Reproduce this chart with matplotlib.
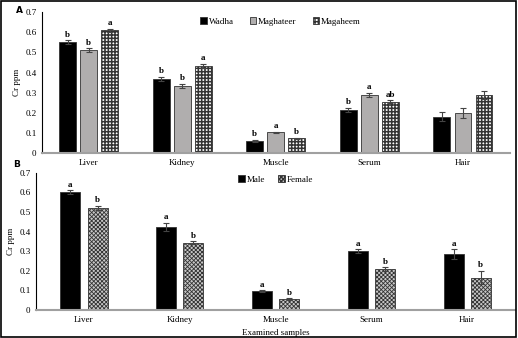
import matplotlib.pyplot as plt
import numpy as np
from matplotlib.patches import Rectangle

plt.rcParams['font.family'] = ['Liberation Serif', 'DejaVu Serif']

# Data
samples = ['Liver', 'Kidney', 'Muscle', 'Serum', 'Hair']

wadha = [0.55, 0.37, 0.06, 0.215, 0.18]
wadha_err = [0.01, 0.01, 0.005, 0.01, 0.022]
maghateer = [0.51, 0.335, 0.103, 0.29, 0.20]
maghateer_err = [0.01, 0.01, 0.004, 0.01, 0.025]
magaheem = [0.61, 0.433, 0.073, 0.255, 0.29]
magaheem_err = [0.008, 0.01, 0.004, 0.008, 0.02]
letters_a = [['b', 'b', 'a'], ['b', 'b', 'a'], ['b', 'a', 'b'], ['b', 'a', 'ab'], ['', '', '']]

male = [0.60, 0.423, 0.095, 0.30, 0.284]
male_err = [0.01, 0.022, 0.006, 0.01, 0.025]
female = [0.52, 0.343, 0.055, 0.207, 0.165]
female_err = [0.01, 0.008, 0.005, 0.01, 0.035]
letters_b = [['a', 'b'], ['a', 'b'], ['a', 'b'], ['a', 'b'], ['a', 'b']]

yticks = [0, 0.1, 0.2, 0.3, 0.4, 0.5, 0.6, 0.7]
ytick_labels = ['0', '0.1', '0.2', '0.3', '0.4', '0.5', '0.6', '0.7']

fig = plt.figure(figsize=(5.18, 3.38), dpi=100)
fig.patches.append(Rectangle((0.002, 0.003), 0.995, 0.994, transform=fig.transFigure,
                             fill=False, edgecolor='black', linewidth=1.2))

ax1 = fig.add_axes([0.081, 0.547, 0.903, 0.417])
ax2 = fig.add_axes([0.0695, 0.083, 0.925, 0.406])

x = np.arange(len(samples)) + 0.5
err_kw = dict(ecolor='#444444', elinewidth=0.8, capsize=2, capthick=0.8)


def set_hatch_lw(bars, lw):
    for b in bars:
        b.set_hatch_linewidth(lw)


# Panel A
series_a = [(wadha, wadha_err, 'Wadha', 'black', None),
            (maghateer, maghateer_err, 'Maghateer', '#b0aeae', None),
            (magaheem, magaheem_err, 'Magaheem', 'white', '+++++')]
w = 0.18
step = 0.225
for k, (vals, errs, name, color, hatch) in enumerate(series_a):
    pos = x + (k - 1) * step
    bars = ax1.bar(pos, vals, w, yerr=errs, color=color, edgecolor='#333333', linewidth=0.6,
                   hatch=hatch, label=name, error_kw=err_kw)
    if hatch:
        set_hatch_lw(bars, 1.1)
    for i in range(len(samples)):
        lab = letters_a[i][k]
        if lab:
            ax1.text(pos[i], vals[i] + errs[i] + 0.008, lab, ha='center', va='bottom',
                     fontsize=6.5, fontweight='bold')

# Panel B
series_b = [(male, male_err, 'Male', 'black', None),
            (female, female_err, 'Female', '#c8c8c8', 'xxxxxxxx')]
w = 0.21
step = 0.285
for k, (vals, errs, name, color, hatch) in enumerate(series_b):
    pos = x + (k - 0.5) * step
    bars = ax2.bar(pos, vals, w, yerr=errs, color=color, edgecolor='#333333', linewidth=0.6,
                   hatch=hatch, label=name, error_kw=err_kw)
    if hatch:
        set_hatch_lw(bars, 0.6)
    for i in range(len(samples)):
        ax2.text(pos[i], vals[i] + errs[i] + 0.008, letters_b[i][k], ha='center', va='bottom',
                 fontsize=6.5, fontweight='bold')

for ax in (ax1, ax2):
    ax.set_xlim(0, len(samples))
    ax.set_ylim(0, 0.7)
    ax.set_yticks(yticks)
    ax.set_yticklabels(ytick_labels)
    ax.set_xticks(x)
    ax.set_xticklabels(samples)
    ax.tick_params(length=0, labelsize=6.5, pad=4)
    ax.spines['top'].set_visible(False)
    ax.spines['right'].set_visible(False)
    ax.spines['left'].set_linewidth(0.8)
    ax.spines['bottom'].set_color('#a0a0a0')
    ax.spines['bottom'].set_linewidth(1.5)
    ax.set_ylabel('Cr ppm', fontsize=6.5, labelpad=3)

ax1.legend(loc='upper center', bbox_to_anchor=(0.51, 1.02), ncol=3, frameon=False,
           fontsize=6.5, handlelength=0.7, handleheight=0.7, handletextpad=0.2,
           columnspacing=1.8)
ax2.legend(loc='upper center', bbox_to_anchor=(0.5, 1.04), ncol=2, frameon=False,
           fontsize=6.5, handlelength=0.7, handleheight=0.7, handletextpad=0.2,
           columnspacing=1.5)
ax2.set_xlabel('Examined samples', fontsize=6.5, labelpad=4)

fig.text(0.03, 0.962, 'A', fontsize=6.5, fontweight='bold', family='DejaVu Sans')
fig.text(0.025, 0.505, 'B', fontsize=6.5, fontweight='bold', family='DejaVu Sans')

fig.savefig('out.png', dpi=100)
